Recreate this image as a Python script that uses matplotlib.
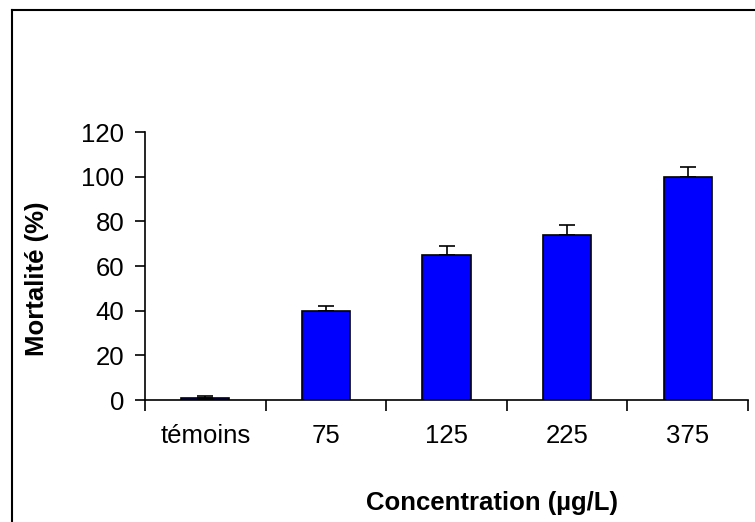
import matplotlib
matplotlib.use("Agg")
import matplotlib.pyplot as plt
from matplotlib.lines import Line2D
import numpy as np

# data
categories = ["témoins", "75", "125", "225", "375"]
mortality = [1, 40, 65, 74, 100]
errors = [0.8, 2, 4, 4.5, 4.5]
y_ticks = [0, 20, 40, 60, 80, 100, 120]

plt.rcParams['font.family'] = ['Liberation Sans', 'DejaVu Sans']

fig = plt.figure(figsize=(7.55, 5.22), dpi=100)
ax = fig.add_axes([145 / 755, 1 - 400 / 522, 603 / 755, 268 / 522])

x = np.arange(len(categories))
ax.bar(x, mortality, width=0.4, color="#0000ff", edgecolor="black", linewidth=1.2, zorder=2)
ax.errorbar(x, mortality, yerr=[np.zeros(len(errors)), errors], fmt="none",
            ecolor="black", elinewidth=1.2, capsize=5.5, capthick=1.2, zorder=3)

ax.set_xlim(-0.5, len(categories) - 0.5)
ax.set_ylim(0, 120)
ax.set_yticks(y_ticks)
ax.set_xticks(x)
ax.set_xticklabels(categories)
ax.set_xticks(np.arange(len(categories) + 1) - 0.5, minor=True)

ax.tick_params(axis="x", which="major", length=0, pad=17, labelsize=18.5)
ax.tick_params(axis="x", which="minor", length=8, width=1.2, direction="out")
ax.tick_params(axis="y", length=7, width=1.2, direction="out", pad=8, labelsize=18.5)

for side in ["top", "right"]:
    ax.spines[side].set_visible(False)
for side in ["left", "bottom"]:
    ax.spines[side].set_linewidth(1.2)
    ax.spines[side].set_color("black")

fig.text(37 / 755, 1 - 279 / 522, "Mortalité (%)", rotation=90, fontsize=18.5,
         fontweight="bold", ha="center", va="center")
fig.text(492 / 755, 1 - 503 / 522, "Concentration (µg/L)", fontsize=18.5,
         fontweight="bold", ha="center", va="center")

# outer frame (only top and left visible in the crop)
fig.add_artist(Line2D([12 / 755, 1], [1 - 10 / 522, 1 - 10 / 522], color="black", lw=1.5,
                      transform=fig.transFigure))
fig.add_artist(Line2D([12 / 755, 12 / 755], [0, 1 - 10 / 522], color="black", lw=1.5,
                      transform=fig.transFigure))

fig.savefig("out.png", dpi=100)
